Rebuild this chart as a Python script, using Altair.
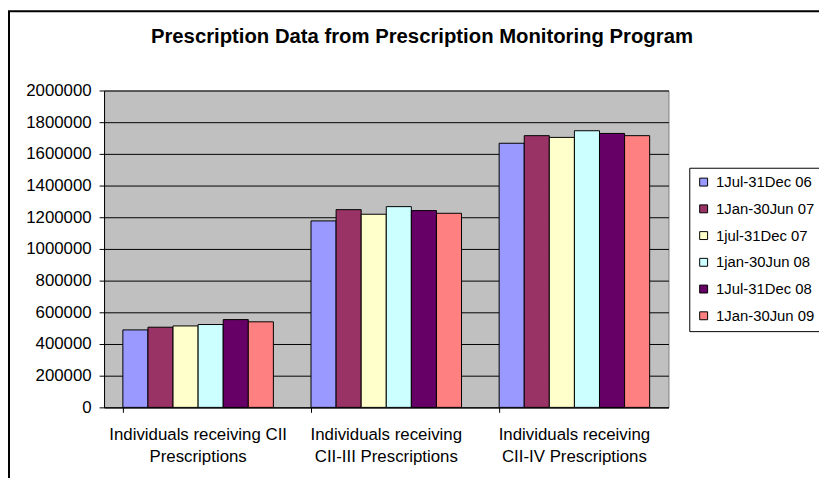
import altair as alt
import pandas as pd

categories = [
    "Individuals receiving CII\nPrescriptions",
    "Individuals receiving\nCII-III Prescriptions",
    "Individuals receiving\nCII-IV Prescriptions",
]
periods = [
    "1Jul-31Dec 06",
    "1Jan-30Jun 07",
    "1jul-31Dec 07",
    "1jan-30Jun 08",
    "1Jul-31Dec 08",
    "1Jan-30Jun 09",
]
colors = ["#9999FF", "#993366", "#FFFFCC", "#CCFFFF", "#660066", "#FF8080"]

cii = [489000, 506000, 514000, 523000, 554000, 540000]
cii_iii = [1177000, 1248000, 1219000, 1267000, 1242000, 1225000]
cii_iv = [1667000, 1715000, 1704000, 1746000, 1729000, 1715000]

rows = []
for cat, vals in zip(categories, [cii, cii_iii, cii_iv]):
    for p, v in zip(periods, vals):
        rows.append({"category": cat, "period": p, "value": v})
df = pd.DataFrame(rows)

FONT = "Liberation Sans"
W, H = 570, 320

bars = alt.Chart(df).mark_bar(stroke="black", strokeWidth=1).encode(
    x=alt.X(
        "category:N",
        sort=categories,
        scale=alt.Scale(paddingInner=0.2, paddingOuter=0.1),
        axis=alt.Axis(
            title=None,
            labelAngle=0,
            bandPosition=0,
            labelExpr="split(datum.label, '\\n')",
            labelFont=FONT,
            labelFontSize=17,
            labelColor="black",
            labelPadding=14,
            labelLineHeight=23,
            labelBaseline="top",
            tickColor="black",
            tickSize=5,
            domainColor="black",
            grid=False,
        ),
    ),
    xOffset=alt.XOffset("period:N", sort=periods, scale=alt.Scale(paddingInner=0, paddingOuter=0)),
    y=alt.Y(
        "value:Q",
        scale=alt.Scale(domain=[0, 2000000]),
        axis=alt.Axis(
            title=None,
            values=list(range(0, 2000001, 200000)),
            format="d",
            labelFont=FONT,
            labelFontSize=17,
            labelColor="black",
            labelPadding=8,
            tickColor="black",
            tickSize=5,
            domainColor="black",
            gridColor="black",
            gridWidth=1,
        ),
    ),
    color=alt.Color(
        "period:N",
        sort=periods,
        scale=alt.Scale(domain=periods, range=colors),
        title=None,
        legend=alt.Legend(
            orient="none",
            legendX=591,
            legendY=78,
            strokeColor="black",
            padding=7,
            symbolType="square",
            symbolSize=64,
            symbolStrokeColor="black",
            symbolStrokeWidth=1,
            labelFont=FONT,
            labelFontSize=15,
            labelColor="black",
            labelOffset=5,
            rowPadding=11,
            fillColor="white",
        ),
    ),
)

border_df = pd.DataFrame({"k": [0]})
border = alt.Chart(border_df).mark_rect(fill=None, stroke="black", strokeWidth=2).encode(
    x=alt.value(-96), x2=alt.value(W + 300), y=alt.value(-80), y2=alt.value(H + 300)
)

chart = alt.layer(bars, border).properties(
    width=W,
    height=H,
    autosize=alt.AutoSizeParams(type="none"),
    padding={"left": 97, "top": 81, "right": 152, "bottom": 69},
    background="white",
    title=alt.TitleParams(
        "Prescription Data from Prescription Monitoring Program",
        font=FONT,
        fontSize=20.5,
        fontWeight="bold",
        color="black",
        anchor="middle",
        frame="group",
        dx=36,
        offset=-38,
    ),
).configure_view(fill="#C0C0C0", stroke="#808080", strokeWidth=1)

chart.save("out.html", embed_options={"renderer": "svg", "actions": False})
